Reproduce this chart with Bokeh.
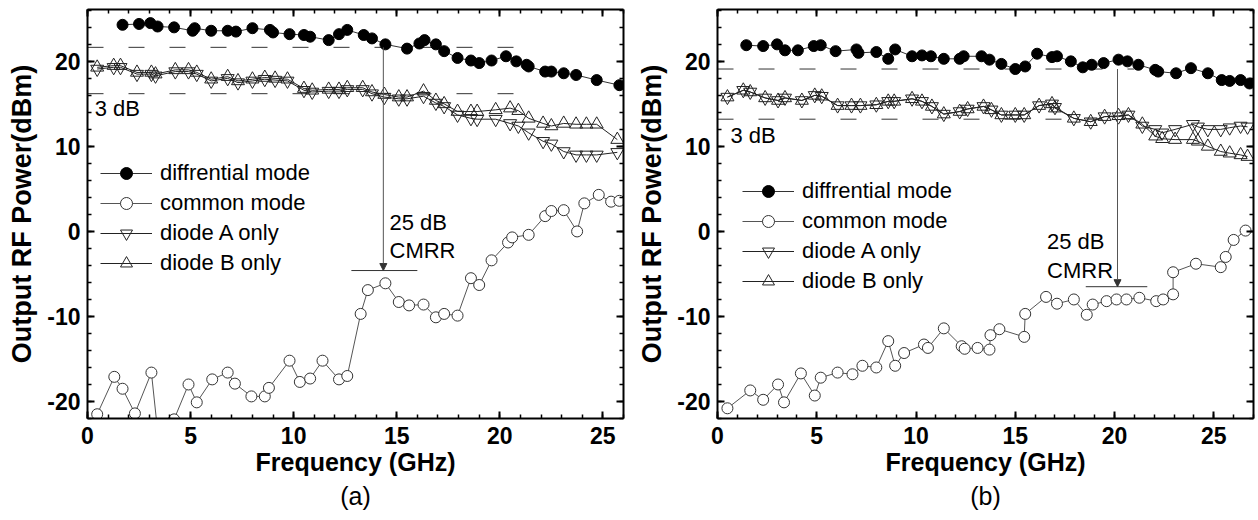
from bokeh.plotting import figure
from bokeh.models import (Range1d, LinearAxis, SingleIntervalTicker, Label, Arrow, Title,
                          NormalHead, Legend, LegendItem, CustomJSTickFormatter)
from bokeh.layouts import row
from bokeh.embed import file_html
from bokeh.resources import INLINE

# ---------------- data : panel (a) ----------------
a_diff_f = [1.7, 2.5, 3.05, 3.4, 4.2, 5.1, 5.2, 6.0, 6.8, 7.2, 8.0, 8.85, 9.0, 9.8, 10.5, 10.8,
            11.7, 12.2, 12.6, 13.4, 13.8, 14.45, 15.5, 16.1, 16.35, 16.9, 17.3, 17.95, 18.6,
            19.0, 19.6, 20.3, 20.8, 21.3, 21.4, 22.2, 22.5, 23.1, 23.7, 24.7, 25.8]
a_diff_p = [24.3, 24.4, 24.5, 24.1, 24.0, 23.6, 23.9, 23.6, 23.6, 23.5, 23.9, 23.7, 23.4, 23.2,
            23.1, 22.9, 22.5, 23.2, 23.7, 23.1, 22.7, 22.0, 21.5, 22.1, 22.5, 22.0, 21.2, 20.4,
            20.1, 19.8, 20.1, 20.6, 20.0, 19.6, 19.4, 18.8, 18.8, 18.6, 18.4, 17.8, 17.2]

a_cm_f = [0.47, 1.3, 1.7, 2.3, 3.1, 3.6, 4.2, 4.9, 5.3, 6.05, 6.8, 7.15, 7.95, 8.6, 8.8, 9.8,
          10.3, 10.8, 11.4, 12.2, 12.6, 13.25, 13.6, 14.45, 15.1, 15.6, 16.3, 16.9, 17.3, 17.95,
          18.6, 19.0, 19.6, 20.4, 20.6, 21.4, 22.2, 22.5, 23.1, 23.75, 24.1, 24.8, 25.4, 25.8]
a_cm_p = [-21.5, -17.1, -18.5, -21.4, -16.6, -28.0, -22.1, -18.0, -20.1, -17.4, -16.6, -17.9,
          -19.4, -19.4, -18.4, -15.2, -17.7, -17.3, -15.2, -17.4, -17.0, -9.7, -6.9, -6.1, -8.3,
          -8.7, -8.6, -10.1, -9.7, -9.9, -5.5, -6.3, -3.4, -1.3, -0.7, -0.4, 1.8, 2.4, 2.5, 0.0,
          3.3, 4.3, 3.5, 3.6]

a_ab_f = [0.47, 1.27, 1.6, 2.4, 3.1, 3.3, 4.26, 4.9, 5.3, 6.0, 6.8, 7.3, 8.0, 8.6, 9.1, 9.7,
          10.5, 10.9, 11.7, 12.2, 12.6, 13.35, 13.8, 14.4, 15.1, 15.5, 16.3, 16.9, 17.3, 17.95,
          18.6, 18.9, 19.8, 20.5, 20.9, 21.4, 22.1, 22.5, 23.1, 23.7, 24.2, 24.7, 25.7]
a_A_p = [19.1, 19.3, 19.3, 18.5, 18.5, 18.3, 18.8, 18.8, 18.5, 17.7, 18.0, 17.5, 17.7, 17.9,
         17.8, 17.7, 16.6, 16.4, 16.5, 16.5, 16.7, 16.7, 16.2, 15.8, 15.6, 15.6, 15.9, 15.1,
         14.7, 13.7, 13.3, 13.2, 13.2, 12.7, 12.4, 11.6, 10.6, 10.3, 9.4, 9.0, 9.0, 9.0, 9.3]
a_B_p = [19.3, 19.5, 19.5, 18.7, 18.7, 18.5, 19.0, 19.0, 18.7, 17.9, 18.2, 17.7, 17.9, 18.1,
         18.0, 17.9, 16.8, 16.6, 16.7, 16.7, 16.9, 16.9, 16.4, 16.1, 15.8, 15.8, 16.5, 15.4,
         15.0, 14.1, 14.1, 14.1, 14.3, 14.5, 14.2, 13.3, 12.7, 12.4, 12.7, 12.6, 12.6, 12.6, 10.8]

a_levels = [21.65, 16.2]      # 3 dB reference levels (dBm)
a_cmrr_level = -4.6

# ---------------- data : panel (b) ----------------
b_diff_f = [1.45, 2.3, 3.0, 3.4, 4.05, 4.85, 5.2, 5.95, 7.0, 7.1, 8.0, 8.6, 8.95, 9.8, 10.3,
            10.75, 11.4, 12.2, 12.4, 13.3, 13.7, 14.3, 15.0, 15.5, 16.1, 16.85, 17.1, 17.8,
            18.4, 18.85, 19.45, 20.2, 20.65, 21.2, 22.05, 22.2, 23.1, 23.85, 24.7, 25.4, 25.8,
            26.35, 26.8]
b_diff_p = [21.9, 21.8, 22.0, 21.3, 21.3, 21.8, 21.9, 21.2, 21.4, 21.0, 21.1, 20.3, 21.4, 20.6,
            20.7, 20.6, 20.3, 20.3, 20.6, 20.6, 20.2, 19.7, 19.1, 19.4, 20.9, 20.5, 20.6, 20.0,
            19.3, 19.6, 19.8, 20.2, 20.0, 19.6, 19.0, 18.8, 18.6, 19.2, 18.6, 17.8, 17.7, 17.8,
            17.4]

b_cm_f = [0.5, 1.65, 2.3, 3.05, 3.35, 4.2, 4.9, 5.2, 6.05, 6.8, 7.3, 8.0, 8.6, 8.95, 9.4, 10.4,
          10.6, 11.4, 12.3, 12.45, 13.1, 13.7, 13.75, 14.2, 15.45, 15.5, 16.55, 17.1, 17.95,
          18.6, 18.9, 19.6, 20.1, 20.6, 21.25, 22.1, 22.45, 22.95, 22.95, 24.1, 25.35, 25.6,
          26.0, 26.6]
b_cm_p = [-20.8, -18.7, -19.8, -18.0, -20.1, -16.7, -19.3, -17.2, -16.6, -16.8, -15.8, -16.0,
          -12.9, -15.8, -14.3, -13.3, -13.7, -11.4, -13.5, -13.8, -13.7, -13.9, -12.2, -11.5,
          -12.4, -9.7, -7.7, -8.5, -8.0, -9.8, -8.6, -8.2, -8.0, -8.0, -7.8, -8.2, -8.0, -7.4,
          -4.8, -3.8, -4.2, -3.0, -1.0, 0.1]

b_ab_f = [0.5, 1.3, 1.65, 2.4, 3.05, 3.4, 4.25, 4.9, 5.25, 6.05, 6.75, 7.2, 8.0, 8.6, 8.9, 9.8,
          10.3, 10.8, 11.4, 12.2, 12.6, 13.4, 13.8, 14.3, 15.0, 15.45, 16.2, 16.85, 17.0, 17.95,
          18.8, 19.5, 20.2, 20.7, 21.4, 22.05, 22.4, 23.05, 23.95, 24.2, 24.7, 25.35, 25.8,
          26.35, 26.7]
b_A_p = [15.8, 16.6, 16.4, 15.7, 15.4, 15.7, 15.4, 16.0, 15.9, 14.8, 14.8, 14.8, 14.9, 15.3,
         15.3, 15.6, 15.3, 14.7, 13.8, 14.1, 14.4, 14.7, 14.3, 13.7, 13.7, 13.7, 14.8, 15.0,
         14.6, 13.3, 12.9, 13.5, 13.5, 13.7, 12.4, 12.0, 11.6, 12.0, 12.6, 12.3, 12.0, 12.0,
         12.2, 12.4, 12.3]
b_B_p = [15.8, 16.6, 16.4, 15.7, 15.4, 15.7, 15.4, 16.0, 15.9, 14.8, 14.8, 14.8, 14.9, 15.3,
         15.3, 15.6, 15.3, 14.7, 13.8, 14.1, 14.4, 14.7, 14.3, 13.7, 13.7, 13.7, 14.8, 15.0,
         14.5, 13.3, 12.9, 13.5, 13.6, 13.7, 12.6, 11.2, 10.9, 10.8, 10.8, 10.6, 10.0, 9.4,
         9.2, 9.0, 8.8]

b_levels = [19.1, 13.2]
b_cmrr_level = -6.5

legend_labels = ["diffrential mode", "common mode", "diode A only", "diode B only"]
x_title = "Frequency (GHz)"
y_title = "Output RF Power(dBm)"

FONT = "Liberation Sans"


def style_axis(ax, labels=True):
    ax.axis_line_width = 2
    ax.axis_line_color = "black"
    ax.major_tick_in = 7
    ax.major_tick_out = 0
    ax.minor_tick_in = 4
    ax.minor_tick_out = 0
    ax.major_tick_line_width = 2
    ax.minor_tick_line_width = 1.5
    ax.major_tick_line_color = "black"
    ax.minor_tick_line_color = "black"
    if labels:
        ax.formatter = CustomJSTickFormatter(code="return tick.toString()")
        ax.major_label_text_font = FONT
        ax.major_label_text_font_style = "bold"
        ax.major_label_text_font_size = "23px"
        ax.major_label_text_color = "black"
    else:
        ax.formatter = CustomJSTickFormatter(code="return ''")
        ax.major_label_text_font_size = "1px"
        ax.major_label_standoff = 0


def panel(width, bl, br, xmax, diff_f, diff_p, cm_f, cm_p, ab_f, A_p, B_p, levels, level_end,
          arrow_x, cmrr_level, cmrr_x0, cmrr_x1, pos3, pos25, posC, leg_loc, cap):
    p = figure(width=width, height=516, x_range=Range1d(0, xmax), y_range=Range1d(-22.0, 26.1),
               output_backend="svg", toolbar_location=None,
               min_border_left=bl, min_border_right=br, min_border_top=9, min_border_bottom=98)
    p.xgrid.visible = False
    p.ygrid.visible = False
    p.outline_line_color = None
    p.background_fill_color = "white"
    p.xaxis.ticker = SingleIntervalTicker(interval=5, num_minor_ticks=5)
    p.yaxis.ticker = SingleIntervalTicker(interval=10, num_minor_ticks=5)
    style_axis(p.xaxis[0])
    style_axis(p.yaxis[0])
    p.xaxis.major_label_standoff = 8
    p.yaxis.major_label_standoff = 7
    p.xaxis.axis_label = x_title
    p.yaxis.axis_label = y_title
    p.xaxis.axis_label_text_font = FONT
    p.yaxis.axis_label_text_font = FONT
    p.xaxis.axis_label_text_font_style = "bold"
    p.yaxis.axis_label_text_font_style = "bold"
    p.xaxis.axis_label_text_font_size = "25px"
    p.yaxis.axis_label_text_font_size = "27px"
    p.xaxis.axis_label_text_color = "black"
    p.yaxis.axis_label_text_color = "black"
    p.xaxis.axis_label_standoff = 1
    p.yaxis.axis_label_standoff = 7

    top = LinearAxis(ticker=SingleIntervalTicker(interval=5, num_minor_ticks=5))
    right = LinearAxis(ticker=SingleIntervalTicker(interval=10, num_minor_ticks=5))
    style_axis(top, False)
    style_axis(right, False)
    p.add_layout(top, "above")
    p.add_layout(right, "right")
    p.add_layout(Title(text=cap, align="center", text_font=FONT, text_font_size="25px",
                       text_font_style="normal", text_color="black", standoff=2), "below")

    # reference (3 dB) dashed levels
    for lv in levels:
        p.line([0, level_end], [lv, lv], line_color="#333333", line_width=1, line_dash="16 25")
    # CMRR arrow and bar
    p.add_layout(Arrow(end=NormalHead(size=7, fill_color="#333333", line_color="#333333"),
                       x_start=arrow_x, y_start=levels[0], x_end=arrow_x, y_end=cmrr_level,
                       line_color="#555555", line_width=1))
    p.line([cmrr_x0, cmrr_x1], [cmrr_level, cmrr_level], line_color="#333333", line_width=1)

    # series
    l1 = p.line(diff_f, diff_p, line_color="#333333", line_width=1)
    s1 = p.scatter(diff_f, diff_p, marker="circle", size=11, fill_color="black", line_color="black")
    l2 = p.line(cm_f, cm_p, line_color="#555555", line_width=1)
    s2 = p.scatter(cm_f, cm_p, marker="circle", size=11, fill_color="white", line_color="#333333",
                   line_width=1)
    l3 = p.line(ab_f, A_p, line_color="#222222", line_width=1)
    s3 = p.scatter(ab_f, A_p, marker="inverted_triangle", size=13, fill_color=None,
                   line_color="#222222", line_width=1)
    l4 = p.line(ab_f, B_p, line_color="#222222", line_width=1)
    s4 = p.scatter(ab_f, B_p, marker="triangle", size=13, fill_color=None,
                   line_color="#222222", line_width=1)

    legend = Legend(items=[LegendItem(label=legend_labels[0], renderers=[l1, s1]),
                           LegendItem(label=legend_labels[1], renderers=[l2, s2]),
                           LegendItem(label=legend_labels[2], renderers=[l3, s3]),
                           LegendItem(label=legend_labels[3], renderers=[l4, s4])],
                    location=leg_loc, glyph_width=52, glyph_height=30, label_height=30,
                    spacing=0, padding=0, margin=0, label_standoff=8,
                    label_text_font=FONT, label_text_font_size="22px", label_text_color="black",
                    border_line_alpha=0, background_fill_alpha=0)
    p.add_layout(legend, "center")

    txt = dict(text_font=FONT, text_font_size="22px", text_color="black",
               text_baseline="middle", text_align="left")
    p.add_layout(Label(x=pos3[0], y=pos3[1], text="3 dB", **txt))
    p.add_layout(Label(x=pos25[0], y=pos25[1], text="25 dB", **txt))
    p.add_layout(Label(x=posC[0], y=posC[1], text="CMRR", **txt))
    return p


pa = panel(631, 87, 8, 26, a_diff_f, a_diff_p, a_cm_f, a_cm_p, a_ab_f, a_A_p, a_B_p,
           a_levels, 21.0, 14.35, a_cmrr_level, 12.8, 16.0,
           (0.35, 14.4), (14.65, 1.0), (14.65, -2.3), (13, 140), "(a)")
pb = panel(625, 86, 3, 27, b_diff_f, b_diff_p, b_cm_f, b_cm_p, b_ab_f, b_A_p, b_B_p,
           b_levels, 21.0, 20.15, b_cmrr_level, 18.55, 21.65,
           (0.65, 11.3), (16.6, -1.2), (16.6, -4.6), (25, 122), "(b)")

layout = row(pa, pb)
open("out.html", "w").write(file_html(layout, INLINE))
